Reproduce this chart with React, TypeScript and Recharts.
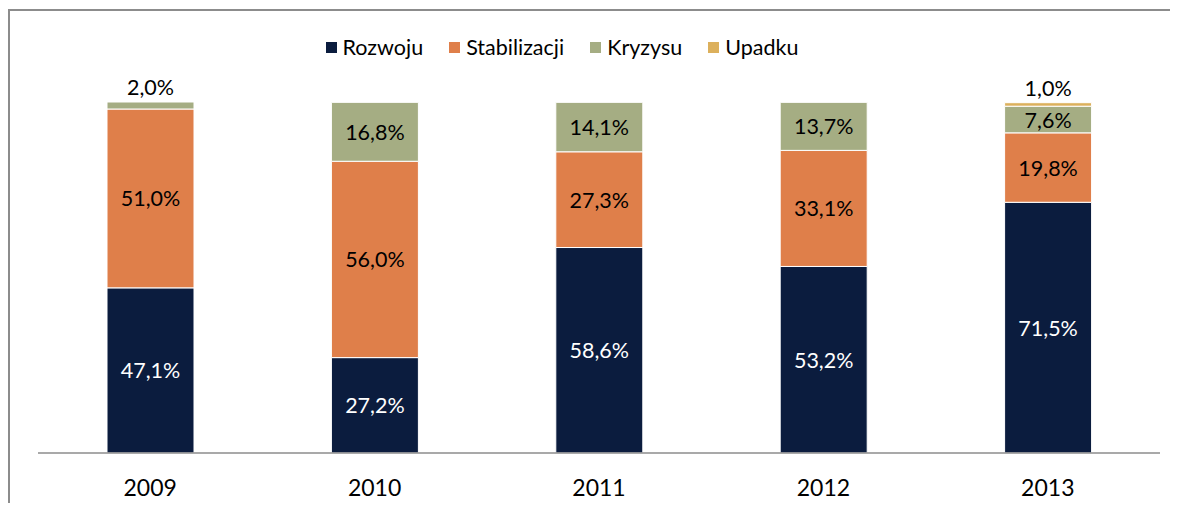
import { BarChart, Bar, XAxis, YAxis, LabelList } from "recharts";

const years = ["2009", "2010", "2011", "2012", "2013"];
const rozwoju = [47.1, 27.2, 58.6, 53.2, 71.5];
const stabilizacji = [51.0, 56.0, 27.3, 33.1, 19.8];
const kryzysu = [2.0, 16.8, 14.1, 13.7, 7.6];
const upadku = [0, 0, 0, 0, 1.0];

const seriesNames = ["Rozwoju", "Stabilizacji", "Kryzysu", "Upadku"];
const seriesKeys = ["rozwoju", "stabilizacji", "kryzysu", "upadku"];
const seriesColors = ["#0b1c3e", "#df7f4a", "#a5ad83", "#dcb05c"];
const labelColors = ["#ffffff", "#000000", "#000000", "#000000"];

const data = years.map((year, i) => ({
  year,
  rozwoju: rozwoju[i],
  stabilizacji: stabilizacji[i],
  kryzysu: kryzysu[i],
  upadku: upadku[i],
}));

const FONT = "Lato, 'Open Sans', sans-serif";

const fmt = (v: number) => v.toFixed(1).replace(".", ",") + "%";

function makeLabel(color: string) {
  return (props: any) => {
    const { x, y, width, height, value } = props;
    if (!value) return null;
    // thin segments get their label above the bar
    const above = height < 14;
    const cx = x + width / 2;
    const cy = above ? y - 15 : y + height / 2;
    return (
      <text
        x={cx}
        y={cy}
        textAnchor="middle"
        dominantBaseline="central"
        fill={above ? "#000000" : color}
        fontSize={21.5}
        fontFamily={FONT}
      >
        {fmt(value)}
      </text>
    );
  };
}

function LegendRow() {
  return (
    <div
      style={{
        position: "absolute",
        top: 23,
        left: 0,
        width: "100%",
        display: "flex",
        justifyContent: "center",
        fontFamily: FONT,
        fontSize: 21.5,
        color: "#000",
        paddingRight: 64,
        boxSizing: "border-box",
      }}
    >
      {seriesNames.map((name, i) => (
        <div
          key={name}
          style={{ display: "flex", alignItems: "center", marginRight: i < 3 ? 26 : 0 }}
        >
          <span
            style={{
              display: "inline-block",
              width: 11,
              height: 11,
              background: seriesColors[i],
              marginRight: 6,
            }}
          />
          <span>{name}</span>
        </div>
      ))}
    </div>
  );
}

export default function App() {
  return (
    <div
      style={{
        position: "relative",
        width: 1168,
        height: 492,
        marginTop: 1,
        borderTop: "2px solid #8c8c8c",
        borderLeft: "2px solid #8c8c8c",
        background: "#fff",
        overflow: "hidden",
      }}
    >
      <style>{"html,body{overflow:hidden}"}</style>
      <LegendRow />
      <BarChart
        width={1168}
        height={492}
        data={data}
        margin={{ top: 91, right: 18, bottom: 10, left: 28 }}
      >
        <XAxis
          dataKey="year"
          axisLine={{ stroke: "#8c8c8c", strokeWidth: 1.5 }}
          tickLine={false}
          tickMargin={21}
          height={40}
          tick={{ fontSize: 23, fill: "#000", fontFamily: FONT }}
        />
        <YAxis hide domain={[0, 100]} />
        {seriesKeys.map((key, i) => (
          <Bar
            key={key}
            dataKey={key}
            stackId="a"
            fill={seriesColors[i]}
            stroke="#ffffff"
            strokeWidth={1}
            barSize={87}
            isAnimationActive={false}
          >
            <LabelList dataKey={key} content={makeLabel(labelColors[i])} />
          </Bar>
        ))}
      </BarChart>
    </div>
  );
}
